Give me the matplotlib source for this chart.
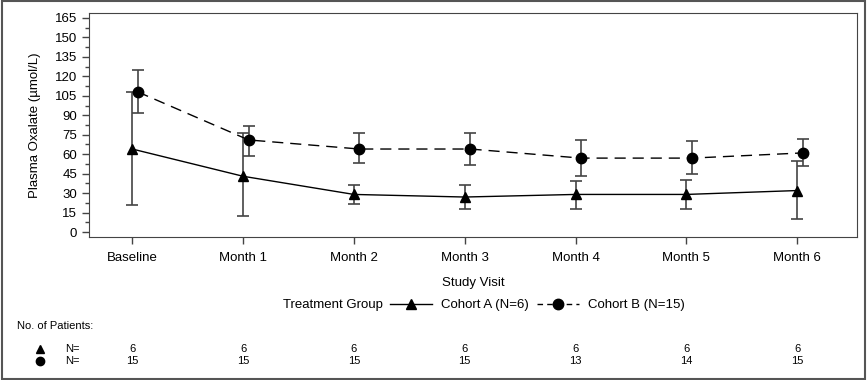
import numpy as np
import matplotlib
matplotlib.use('Agg')
import matplotlib.pyplot as plt
from matplotlib.lines import Line2D
from matplotlib.patches import Rectangle
import matplotlib.transforms as mtransforms

plt.rcParams['font.family'] = ['Liberation Sans', 'DejaVu Sans']

# Data
visits = ['Baseline','Month 1','Month 2','Month 3','Month 4','Month 5','Month 6']
a_mean = [64, 43, 29, 27, 29, 29, 32]
a_low = [21, 12, 22, 18, 18, 18, 10]
a_high = [108, 76, 36, 36, 39, 40, 55]
b_mean = [108, 71, 64, 64, 57, 57, 61]
b_low = [92, 59, 53, 52, 43, 45, 51]
b_high = [125, 82, 76, 76, 71, 70, 72]
n_a = [6, 6, 6, 6, 6, 6, 6]
n_b = [15, 15, 15, 15, 13, 14, 15]
yticks = np.arange(0, 166, 15)

# Figure
fig = plt.figure(figsize=(8.67,3.8), dpi=100)
fig.patches.append(Rectangle((0.002,0.003), 0.996, 0.994, transform=fig.transFigure,
                             fill=False, edgecolor='#555555', linewidth=1.5, zorder=-1))
ax = fig.add_axes([0.1027, 0.376, 0.8858, 0.590])

x = np.arange(len(visits))
ecol = '#444444'
a_err = [np.array(a_mean)-np.array(a_low), np.array(a_high)-np.array(a_mean)]
b_err = [np.array(b_mean)-np.array(b_low), np.array(b_high)-np.array(b_mean)]
ax.errorbar(x, a_mean, yerr=a_err, fmt='none', ecolor=ecol, elinewidth=1.2, capsize=4.5, capthick=1.2, zorder=2)
ax.errorbar(x+0.05, b_mean, yerr=b_err, fmt='none', ecolor=ecol, elinewidth=1.2, capsize=4.5, capthick=1.2, zorder=2)
ax.plot(x, a_mean, color='black', lw=1, marker='^', markersize=7, zorder=3)
ax.plot(x+0.05, b_mean, color='black', lw=1, ls=(0,(8,5)), marker='o', markersize=7.5, zorder=3)

ax.set_xlim(-0.39, 6.54)
ax.set_ylim(-3.9, 168.9)
ax.set_xticks(x)
ax.set_xticklabels(visits, fontsize=9.5)
ax.set_yticks(yticks)
ax.set_yticks(np.arange(7.5, 166, 15), minor=True)
ax.tick_params(axis='y', labelsize=9.5, length=5, width=1, color='#444444')
ax.tick_params(axis='y', which='minor', length=3, width=1, color='#444444')
ax.tick_params(axis='x', length=5, width=1, color='#444444', pad=6)
for sp in ax.spines.values():
    sp.set_color('#444444')
ax.set_xlabel('Study Visit', fontsize=9.5, labelpad=9)
ax.set_ylabel('Plasma Oxalate (\u00b5mol/L)', fontsize=9.5, labelpad=10)

# Legend
fig.text(283/867, 1-305/380, 'Treatment Group', fontsize=9.5, va='center', ha='left')
h1 = Line2D([], [], color='black', lw=1, marker='^', markersize=7)
h2 = Line2D([], [], color='black', lw=1, ls=(0,(4,3)), marker='o', markersize=7.5)
fig.legend([h1, h2], ['Cohort A (N=6)', 'Cohort B (N=15)'], ncol=2, frameon=False,
           loc='center left', bbox_to_anchor=(378/867, 1-305/380), fontsize=9.5,
           handlelength=3.2, columnspacing=0.6, handletextpad=0.7)

# Patient counts
fig.text(17/867, 1-326/380, 'No. of Patients:', fontsize=8, va='center')
fig.add_artist(Line2D([40/867], [1-349/380], marker='^', color='black', markersize=6, ls='none', transform=fig.transFigure))
fig.add_artist(Line2D([40/867], [1-361/380], marker='o', color='black', markersize=6, ls='none', transform=fig.transFigure))
fig.text(65/867, 1-349/380, 'N=', fontsize=8, va='center')
fig.text(65/867, 1-361/380, 'N=', fontsize=8, va='center')
trans = mtransforms.blended_transform_factory(ax.transData, fig.transFigure)
for i in range(len(visits)):
    ax.text(x[i], 1-349/380, str(n_a[i]), transform=trans, fontsize=8, ha='center', va='center', clip_on=False)
    ax.text(x[i], 1-361/380, str(n_b[i]), transform=trans, fontsize=8, ha='center', va='center', clip_on=False)

plt.savefig('out.png', dpi=100)
